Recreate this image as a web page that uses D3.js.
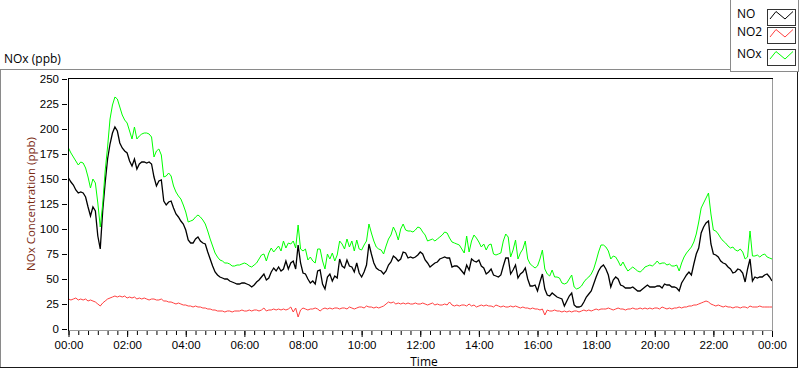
<!DOCTYPE html>
<html>
<head>
<meta charset="utf-8">
<script src="https://cdn.jsdelivr.net/npm/d3@7"></script>
<style>
  body { margin: 0; background: #fff; }
  svg { display: block; font-family: "Segoe UI", "Open Sans", sans-serif; }
</style>
</head>
<body>
<svg id="graphContainer" width="800" height="369"></svg>
<script>
// one reading every 5 minutes, minutes since midnight
let timeMinutes = d3.range(0, 1441, 5);

let noValues = [
  151,147,144,139,136,137,136,132,122,113,
  122,118,93,80,118,146,170,185,196,202,
  198,186,181,178,176,168,163,170,160,165,
  167,167,166,167,165,152,143,148,149,128,
  124,127,128,121,115,112,108,105,99,89,
  86,86,90,92,88,86,85,77,70,63,
  57,54,52,51,50,50,48,47,46,45,
  45,46,46,45,44,42,44,47,49,52,
  55,49,51,57,61,58,62,58,60,68,
  60,66,68,60,84,66,56,55,50,46,
  48,45,58,59,45,40,52,55,48,53,
  51,70,63,61,69,63,62,57,66,56,
  52,57,64,85,75,66,61,59,58,55,
  58,64,67,73,71,68,70,77,76,71,
  72,71,72,74,77,75,69,66,62,64,
  66,67,70,71,72,71,71,62,63,63,
  61,58,55,64,59,70,68,67,69,63,
  61,55,57,60,54,53,52,54,63,71,
  71,55,59,64,51,55,57,61,50,43,
  43,44,38,47,55,40,34,33,36,34,
  32,31,30,23,28,33,36,24,22,22,
  23,27,32,35,38,45,52,58,62,64,
  60,54,42,49,52,50,44,43,41,41,
  41,42,40,38,38,40,42,44,42,42,
  42,43,43,41,45,44,44,42,42,41,
  38,46,50,54,57,54,65,75,81,96,
  102,106,108,85,75,74,72,68,66,65,
  62,60,56,57,60,59,56,47,60,70,
  48,52,51,52,52,54,55,52,48
];

let no2Values = [
  30,29,30,31,29,30,29,30,28,29,
  28,27,25,23,26,28,30,31,32,33,
  32,33,32,33,31,32,31,32,30,31,
  30,31,30,29,30,30,29,29,30,28,
  28,27,27,26,25,26,25,24,24,23,
  23,22,23,22,22,21,21,20,20,19,
  19,18,18,18,17,18,18,17,18,18,
  18,19,18,18,19,18,19,19,18,19,
  21,18,19,19,20,19,20,19,20,19,
  20,22,17,21,12,19,21,20,19,20,
  20,21,20,18,20,21,20,21,20,21,
  21,20,21,21,20,22,21,20,21,22,
  22,21,23,22,22,21,22,21,22,23,
  25,27,26,27,25,26,25,26,25,26,
  25,25,26,25,25,26,25,24,25,26,
  24,25,24,24,25,24,27,24,23,24,
  23,24,24,23,25,23,24,22,23,24,
  23,24,23,23,22,24,23,22,23,22,
  22,23,22,23,22,21,22,21,21,20,
  21,20,20,19,20,14,19,18,18,19,
  18,18,17,18,17,18,17,18,18,17,
  18,19,18,19,18,19,20,19,20,20,
  20,21,20,19,20,21,20,20,19,20,
  20,21,20,20,21,20,21,20,21,20,
  21,21,20,22,21,20,21,20,21,21,
  22,21,22,22,23,23,24,24,25,26,
  27,28,27,25,24,23,24,23,22,23,
  22,22,21,22,22,21,22,22,21,23,
  22,22,22,23,22,22,22,22,22
];

let noxValues = [
  181,176,172,168,164,167,166,161,152,141,
  150,146,126,102,125,158,182,210,224,232,
  230,222,214,209,206,198,190,202,190,193,
  195,196,196,195,192,172,178,180,174,152,
  153,156,153,143,137,133,130,124,117,107,
  108,109,112,114,112,109,105,98,90,83,
  76,72,69,68,66,66,65,63,63,64,
  64,65,66,65,63,62,64,66,70,74,
  75,68,76,81,77,80,83,78,88,81,
  86,85,88,81,104,80,78,80,69,72,
  68,66,80,80,68,60,75,70,76,68,
  74,88,85,80,90,82,88,78,89,80,
  79,84,88,105,96,88,82,80,79,75,
  83,90,94,102,97,89,100,105,99,98,
  98,97,99,102,101,97,94,88,89,90,
  88,90,92,94,97,96,91,87,86,85,
  84,80,76,93,77,88,94,91,87,82,
  85,79,84,85,75,74,75,76,88,95,
  92,72,79,89,70,76,80,88,70,65,
  63,61,63,70,79,60,55,53,59,52,
  52,51,46,45,46,50,54,42,40,41,
  43,47,50,52,55,60,68,77,84,84,
  82,78,70,73,72,68,63,67,62,58,
  60,62,60,58,57,59,62,63,64,63,
  65,68,65,66,66,64,65,63,63,64,
  58,66,72,76,79,82,87,95,107,121,
  126,131,136,115,99,98,95,91,88,86,
  83,81,82,79,78,80,77,70,72,98,
  73,73,74,72,74,75,72,71,70
];

let seriesNames = ["NO", "NO2", "NOx"];
let seriesColors = ["#000000", "#ff3f3f", "#00ff00"];
let seriesWidths = [1.3, 1, 1];

let yTicks = [0, 25, 50, 75, 100, 125, 150, 175, 200, 225, 250];
let xTickMinutes = [0, 120, 240, 360, 480, 600, 720, 840, 960, 1080, 1200, 1320, 1440];
let xTickLabels = ["00:00", "02:00", "04:00", "06:00", "08:00", "10:00", "12:00",
                   "14:00", "16:00", "18:00", "20:00", "22:00", "00:00"];
let xMinorMinutes = d3.range(0, 1441, 20);

let svg = d3.select("#graphContainer");

// outer panel frame (light top/left, dark bottom/right)
svg.append("line").attr("x1", 0).attr("x2", 731).attr("y1", 69.5).attr("y2", 69.5).attr("stroke", "#8a8a8a");
svg.append("line").attr("x1", 0.5).attr("x2", 0.5).attr("y1", 69).attr("y2", 368).attr("stroke", "#8a8a8a");
svg.append("line").attr("x1", 0).attr("x2", 798).attr("y1", 367.5).attr("y2", 367.5).attr("stroke", "#1a1a1a");
svg.append("line").attr("x1", 797.5).attr("x2", 797.5).attr("y1", 69).attr("y2", 368).attr("stroke", "#1a1a1a");

svg.append("text")
  .attr("x", 4).attr("y", 63)
  .style("font-size", "12px")
  .text("NOx (ppb)");

// scales
let x = d3.scaleLinear().domain([0, 1440]).range([68.5, 772]);
let y = d3.scaleLinear().domain([0, 250]).range([329, 79]);

// plot area border
svg.append("line").attr("x1", 68).attr("x2", 773).attr("y1", 78.5).attr("y2", 78.5).attr("stroke", "#000");
svg.append("line").attr("x1", 68.5).attr("x2", 68.5).attr("y1", 78).attr("y2", 331).attr("stroke", "#000");
svg.append("line").attr("x1", 772.5).attr("x2", 772.5).attr("y1", 79).attr("y2", 331).attr("stroke", "#9a9a9a");
svg.append("line").attr("x1", 69).attr("x2", 773).attr("y1", 330.5).attr("y2", 330.5).attr("stroke", "#9a9a9a");

// Y axis
let yAxis = svg.append("g")
  .attr("transform", "translate(67,0)")
  .call(d3.axisLeft(y).tickValues(yTicks).tickSize(5).tickPadding(3));
yAxis.select(".domain").remove();
yAxis.selectAll("text").style("font-size", "11.5px").attr("fill", "#000").style("font-family", "inherit");

// X axis, minor then major ticks
let xMinor = svg.append("g")
  .attr("transform", "translate(0,331)")
  .call(d3.axisBottom(x).tickValues(xMinorMinutes).tickSize(4).tickFormat(""));
xMinor.select(".domain").remove();

let xAxis = svg.append("g")
  .attr("transform", "translate(0,331)")
  .call(d3.axisBottom(x).tickValues(xTickMinutes).tickSize(6).tickPadding(4)
    .tickFormat(function(d, i) { return xTickLabels[i]; }));
xAxis.select(".domain").remove();
xAxis.selectAll("text").style("font-size", "11.5px").attr("fill", "#000").style("font-family", "inherit");

svg.append("text")
  .attr("x", 424).attr("y", 366)
  .attr("text-anchor", "middle")
  .style("font-size", "12px")
  .text("Time");

svg.append("text")
  .attr("transform", "translate(35,204) rotate(-90)")
  .attr("text-anchor", "middle")
  .attr("fill", "#7a2a12")
  .style("font-size", "11.5px")
  .text("NOx Concentration (ppb)");

// series lines
svg.append("clipPath").attr("id", "plotClip")
  .append("rect").attr("x", 69).attr("y", 79).attr("width", 703).attr("height", 251);

let line = d3.line()
  .x(function(d, i) { return x(timeMinutes[i]); })
  .y(function(d) { return y(d); });

let allSeries = [noValues, no2Values, noxValues];
let plotG = svg.append("g").attr("clip-path", "url(#plotClip)");
plotG.selectAll("path.series")
  .data(allSeries)
  .enter()
  .append("path")
    .attr("class", "series")
    .attr("d", line)
    .attr("fill", "none")
    .attr("stroke", function(d, i) { return seriesColors[i]; })
    .attr("stroke-width", function(d, i) { return seriesWidths[i]; });

// legend box
svg.append("rect")
  .attr("x", 730.5).attr("y", -0.5).attr("width", 68).attr("height", 72)
  .attr("fill", "#fff").attr("stroke", "#8a8a8a");

let legendTop = [9, 27, 49];
let legend = svg.selectAll("g.legendItem")
  .data(seriesNames)
  .enter()
  .append("g")
    .attr("class", "legendItem")
    .attr("transform", function(d, i) { return "translate(0," + legendTop[i] + ")"; });

legend.append("text")
  .attr("x", 737).attr("y", 9)
  .style("font-size", "12px")
  .text(function(d) { return d; });

legend.append("rect")
  .attr("x", 767.5).attr("y", 0.5).attr("width", 28).attr("height", 16)
  .attr("fill", "#fff").attr("stroke", "#333");

legend.append("polyline")
  .attr("points", "770,10 776,2.5 785,10 793,2.5")
  .attr("fill", "none")
  .attr("stroke", function(d, i) { return seriesColors[i]; });
</script>
</body>
</html>
